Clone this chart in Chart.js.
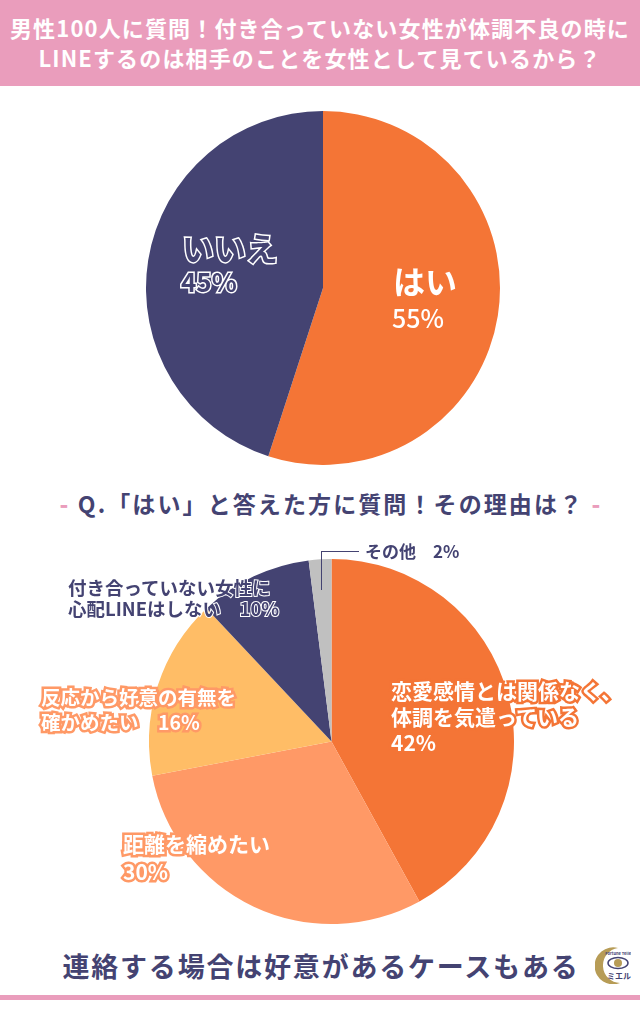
<!DOCTYPE html>
<html lang="ja">
<head>
    <meta charset="UTF-8">
    <script src="https://cdn.jsdelivr.net/npm/chart.js@4/dist/chart.umd.js"></script>
    <title>男性100人に質問</title>
    <style>
        html, body { margin: 0; padding: 0; background: #fff; }
        body { width: 640px; height: 1024px; position: relative; overflow: hidden;
               font-family: "Noto Sans CJK JP", sans-serif; font-weight: 700; }
        canvas { position: absolute; }
        #head { position: absolute; left: 0; top: 0; width: 640px; height: 86px; background: #ea9dbc; color: #fff;
                text-align: center; font-size: 22px; letter-spacing: 1.15px; line-height: 30px; padding-top: 12px; box-sizing: border-box; white-space: nowrap; }
        #mid { position: absolute; left: 11px; width: 640px; top: 485px; text-align: center; font-size: 23px; line-height: 36px; color: #444372; letter-spacing: 2.1px; white-space: nowrap; }
        #mid b { color: #ea9dbc; }
        #foot { position: absolute; left: 1px; width: 640px; top: 945px; font-size: 27px; line-height: 42px; text-align: center; color: #444372; letter-spacing: 1.8px; }
        #bar { position: absolute; left: 0; top: 995px; width: 640px; height: 5px; background: #ea9dbc; }
        .lab { position: absolute; white-space: pre; paint-order: stroke fill; }
        #yes { left: 393px; top: 258px; color: #fff; font-size: 32px; line-height: 44px; }
        #yesP { left: 392px; top: 302px; color: #fff; font-size: 25px; line-height: 30px; font-weight: 500; }
        #no { left: 182px; top: 225px; color: #444372; font-size: 32px; line-height: 44px; -webkit-text-stroke: 3px #fff; }
        #noP { left: 181px; top: 266px; color: #444372; font-size: 26px; line-height: 30px; -webkit-text-stroke: 3px #fff; }
        .hot { color: #fff; -webkit-text-stroke: 5px #f47536; }
        .peach { color: #fff; -webkit-text-stroke: 5px #ff9966; }
        #l0 { left: 391px; top: 677px; font-size: 21px; line-height: 26px; }
        #l1 { left: 123px; top: 829px; font-size: 21px; line-height: 28px; }
        #l2 { left: 41px; top: 684px; font-size: 19.5px; line-height: 25px; }
        #l3 { left: 68px; top: 577px; font-size: 18.5px; line-height: 21px; color: #444372; -webkit-text-stroke: 2px #fff; }
        #l4 { left: 365px; top: 539px; font-size: 17px; line-height: 24px; color: #444372; }
        #lead { position: absolute; left: 321px; top: 551px; width: 38px; height: 39px; border-left: 1.5px solid #444372; border-top: 1.5px solid #444372; box-sizing: border-box; }
        #logo { position: absolute; left: 595px; top: 946px; width: 36px; height: 38px; }
    </style>
</head>
<body>
    <div id="head">男性100人に質問！付き合っていない女性が体調不良の時に<br>LINEするのは相手のことを女性として見ているから？</div>

    <canvas id="pie1" style="left:146px;top:111px"></canvas>
    <div class="lab" id="yes"></div>
    <div class="lab" id="yesP"></div>
    <div class="lab" id="no"></div>
    <div class="lab" id="noP"></div>

    <div id="mid"><b>-</b> Q.「はい」と答えた方に質問！その理由は？ <b>-</b></div>

    <canvas id="pie2" style="left:149px;top:559px"></canvas>
    <div id="lead"></div>
    <div class="lab hot" id="l0"></div>
    <div class="lab peach" id="l1"></div>
    <div class="lab peach" id="l2"></div>
    <div class="lab" id="l3"></div>
    <div class="lab" id="l4"></div>

    <div id="foot">連絡する場合は好意があるケースもある</div>
    <svg id="logo" viewBox="0 0 36 38">
        <path d="M23 2 A18.5 18.5 0 1 0 25 37 A17.6 17.6 0 0 1 23 2 Z" fill="#b79c56"/>
        <text x="24" y="9" font-size="4" text-anchor="middle" fill="#444372">Fortune Teller</text>
        <ellipse cx="23" cy="17" rx="10" ry="5.5" fill="none" stroke="#444372" stroke-width="1.5"/>
        <circle cx="23" cy="17" r="4" fill="#b79c56"/>
        <text x="24" y="33" font-size="8" text-anchor="middle" fill="#444372" font-weight="700">ミエル</text>
    </svg>
    <div id="bar"></div>

    <script>
        const answerLabels = ["はい", "いいえ"];
        const answerValues = [55, 45];
        const answerColors = ["#f47536", "#444372"];

        const reasonLabels = [
            "恋愛感情とは関係なく、\n体調を気遣っている",
            "距離を縮めたい",
            "反応から好意の有無を\n確かめたい",
            "付き合っていない女性に\n心配LINEはしない",
            "その他"
        ];
        const reasonValues = [42, 30, 16, 10, 2];
        const reasonColors = ["#f47536", "#ff9966", "#ffbd66", "#444372", "#c0c0c0"];

        function drawPie(id, size, labels, values, colors) {
            let canvas = document.getElementById(id);
            canvas.width = size;
            canvas.height = size;
            return new Chart(canvas, {
                type: "pie",
                data: {
                    labels: labels,
                    datasets: [{ data: values, backgroundColor: colors, borderWidth: 0 }]
                },
                options: {
                    responsive: false,
                    animation: false,
                    plugins: { legend: { display: false }, tooltip: { enabled: false } }
                }
            });
        }

        drawPie("pie1", 354, answerLabels, answerValues, answerColors);
        drawPie("pie2", 365, reasonLabels, reasonValues, reasonColors);

        function setText(id, text) {
            document.getElementById(id).textContent = text;
        }

        setText("yes", answerLabels[0]);
        setText("yesP", answerValues[0] + "%");
        setText("no", answerLabels[1]);
        setText("noP", answerValues[1] + "%");
        setText("l0", reasonLabels[0] + "\n" + reasonValues[0] + "%");
        setText("l1", reasonLabels[1] + "\n" + reasonValues[1] + "%");
        setText("l2", reasonLabels[2] + "　" + reasonValues[2] + "%");
        setText("l3", reasonLabels[3] + "　" + reasonValues[3] + "%");
        setText("l4", reasonLabels[4] + "　" + reasonValues[4] + "%");
    </script>
</body>
</html>
